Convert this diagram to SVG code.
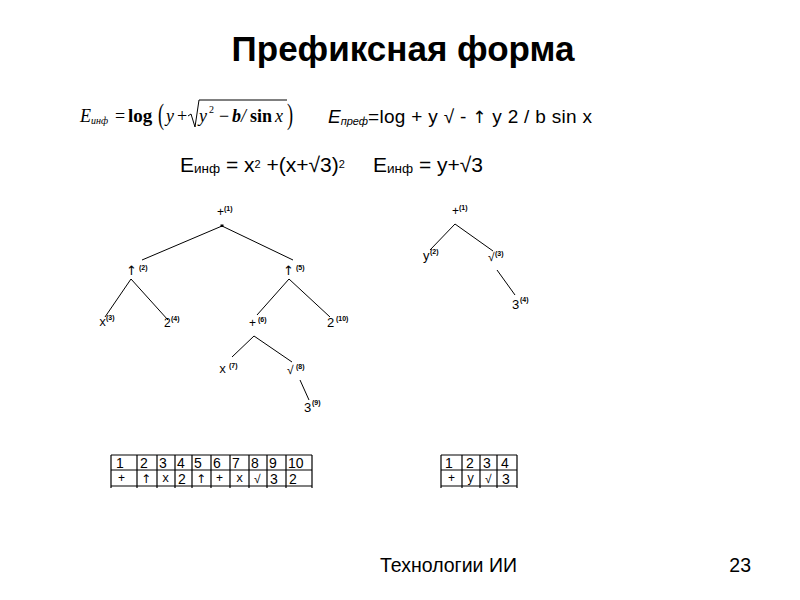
<svg xmlns="http://www.w3.org/2000/svg" width="800" height="600" viewBox="0 0 800 600">
<style>
.sans{font-family:"Liberation Sans",Arial,sans-serif;fill:#000}
.serif{font-family:"Liberation Serif","Times New Roman",serif;fill:#000}
.mono{font-family:"Liberation Mono","Courier New",monospace;fill:#000}
.arr{font-family:"DejaVu Sans","Liberation Sans",sans-serif;fill:#000}
.lbl{font-size:12px}
.sup{font-family:"Liberation Sans",Arial,sans-serif;font-size:7px;font-weight:bold;fill:#000}
.edge{stroke:#000;stroke-width:1;fill:none}
.grid{stroke:#000;stroke-width:1.2;fill:none}
.cell{font-family:"Liberation Sans",Arial,sans-serif;font-size:14px;fill:#000}
.cell2{font-family:"Liberation Sans",Arial,sans-serif;font-size:12px;fill:#000}
.cellm{font-family:"Liberation Mono","Courier New",monospace;font-size:12px;fill:#000}
</style>
<rect width="800" height="600" fill="#fff"/>
<text class="sans" x="403" y="61" font-size="35" font-weight="bold" text-anchor="middle">Префиксная форма</text>

<g id="formula-inf">
<text class="serif" x="80" y="122" font-size="18" font-style="italic">E<tspan font-size="10" dy="2">инф</tspan></text>
<text class="serif" x="115" y="122" font-size="18">=</text>
<text class="serif" x="128" y="122" font-size="19" font-weight="bold">log</text>
<text class="serif" x="158" y="124" font-size="26" transform="translate(158 124) scale(0.7 1.15) translate(-158 -124)">(</text>
<text class="serif" x="166" y="122" font-size="18" font-style="italic">y</text>
<text class="serif" x="177" y="122" font-size="18">+</text>
<path class="edge" d="M188 116 L191 114 L195 127 L199 100 L287 100"/>
<text class="serif" x="199" y="122" font-size="18" font-style="italic">y</text>
<text class="serif" x="209" y="113" font-size="10">2</text>
<text class="serif" x="219" y="122" font-size="18">−</text>
<text class="serif" x="232" y="122" font-size="18" font-style="italic" font-weight="bold">b</text>
<text class="serif" x="241" y="122" font-size="18" font-style="italic">/</text>
<text class="serif" x="250" y="122" font-size="18" font-weight="bold">sin</text>
<text class="serif" x="275" y="122" font-size="18" font-style="italic">x</text>
<text class="serif" x="287" y="124" font-size="26" transform="translate(287 124) scale(0.7 1.15) translate(-287 -124)">)</text>
</g>

<g id="formula-pref">
<text class="sans" x="328" y="123" font-size="19" font-style="italic">E<tspan font-size="11" dy="2">преф</tspan></text>
<text class="sans" x="368" y="123" font-size="19" textLength="224" lengthAdjust="spacing">=log + y √ - <tspan class="arr" font-size="17">↑</tspan> y 2 / b sin x</text>
</g>

<g id="formula-inf2">
<text class="sans" x="180" y="172" font-size="21">E<tspan font-size="13.5" dy="1">инф</tspan><tspan dy="-1"> = x</tspan><tspan font-size="11" dy="-4">2</tspan><tspan dy="4"> +(x+√3)</tspan><tspan font-size="11" dy="-4">2</tspan></text>
<text class="sans" x="373" y="172" font-size="21">E<tspan font-size="13.5" dy="1">инф</tspan><tspan dy="-1"> = y+√3</tspan></text>
</g>

<g id="connectors">
<path class="edge" d="M222 226 L142 260 M222 226 L293 260 M131 279 L105 317 M131 279 L168 320 M289 279 L257 315 M289 279 L330 317 M254 336 L232 357 M254 336 L292 362 M300 380 L309 400"/>
<path class="edge" d="M455 224 L430 250 M455 224 L493 251 M497 270 L515 295"/>
<rect x="220.5" y="224.5" width="3" height="2.5" fill="#000"/>
</g>

<g id="t1-n1"><text class="sans lbl" x="217" y="216">+</text><text class="sup" x="224" y="211">(1)</text></g>
<g id="t1-n2"><text class="arr" font-size="13" x="126" y="275">↑</text><text class="sup" x="139" y="270">(2)</text></g>
<g id="t1-n3"><text class="mono lbl" x="99" y="326">x</text><text class="sup" x="106" y="320">(3)</text></g>
<g id="t1-n4"><text class="sans lbl" x="164" y="327">2</text><text class="sup" x="171" y="321">(4)</text></g>
<g id="t1-n5"><text class="arr" font-size="13" x="283" y="275">↑</text><text class="sup" x="296" y="270">(5)</text></g>
<g id="t1-n6"><text class="sans lbl" x="249" y="327">+</text><text class="sup" x="258" y="322">(6)</text></g>
<g id="t1-n7"><text class="mono lbl" x="219" y="373">x</text><text class="sup" x="229" y="368">(7)</text></g>
<g id="t1-n8"><text class="sans lbl" x="287" y="374">√</text><text class="sup" x="296" y="369">(8)</text></g>
<g id="t1-n9"><text class="sans" font-size="13" x="304" y="412">3</text><text class="sup" x="312" y="405">(9)</text></g>
<g id="t1-n10"><text class="sans" font-size="13" x="327" y="327">2</text><text class="sup" x="336" y="321">(10)</text></g>

<g id="t2-n1"><text class="sans lbl" x="452" y="215">+</text><text class="sup" x="459" y="210">(1)</text></g>
<g id="t2-n2"><text class="sans" font-size="13" x="423" y="260">y</text><text class="sup" x="430" y="254">(2)</text></g>
<g id="t2-n3"><text class="sans lbl" x="488" y="261">√</text><text class="sup" x="495" y="256">(3)</text></g>
<g id="t2-n4"><text class="sans" font-size="13" x="512" y="309">3</text><text class="sup" x="520" y="302">(4)</text></g>

<g id="table1">
<path class="grid" d="M111 455 H312 M111 470 H312 M111 486 H312 M111 455 V488 M137 455 V488 M157 455 V488 M175 455 V488 M192 455 V488 M211 455 V488 M230 455 V488 M249 455 V488 M267 455 V488 M286 455 V488 M312 455 V488"/>
<text class="cell" x="116" y="468">1</text><text class="cell" x="140" y="468">2</text><text class="cell" x="159" y="468">3</text><text class="cell" x="177" y="468">4</text><text class="cell" x="194" y="468">5</text><text class="cell" x="213" y="468">6</text><text class="cell" x="232" y="468">7</text><text class="cell" x="251" y="468">8</text><text class="cell" x="269" y="468">9</text><text class="cell" x="288" y="468">10</text>
<text class="cell2" x="118" y="482" font-size="10">+</text><text class="arr" font-size="12" x="141" y="483">↑</text><text class="cellm" x="162" y="482">x</text><text class="cell" x="178" y="484">2</text><text class="arr" font-size="12" x="196" y="483">↑</text><text class="cell2" x="216" y="482" font-size="10">+</text><text class="cellm" x="236" y="482">x</text><text class="cell2" x="254" y="483">√</text><text class="cell" x="270" y="484">3</text><text class="cell" x="289" y="484">2</text>
</g>

<g id="table2">
<path class="grid" d="M441 455 H517 M441 470 H517 M441 486 H517 M441 455 V488 M462 455 V488 M480 455 V488 M497 455 V488 M517 455 V488"/>
<text class="cell" x="445" y="468">1</text><text class="cell" x="466" y="468">2</text><text class="cell" x="483" y="468">3</text><text class="cell" x="501" y="468">4</text>
<text class="cell2" x="448" y="482" font-size="10">+</text><text class="cellm" x="467" y="482">y</text><text class="cell2" x="485" y="483">√</text><text class="cell" x="502" y="484">3</text>
</g>

<text class="sans" x="380" y="572" font-size="19.5">Технологии ИИ</text>
<text class="sans" x="751" y="572" font-size="19.5" text-anchor="end">23</text>
</svg>
